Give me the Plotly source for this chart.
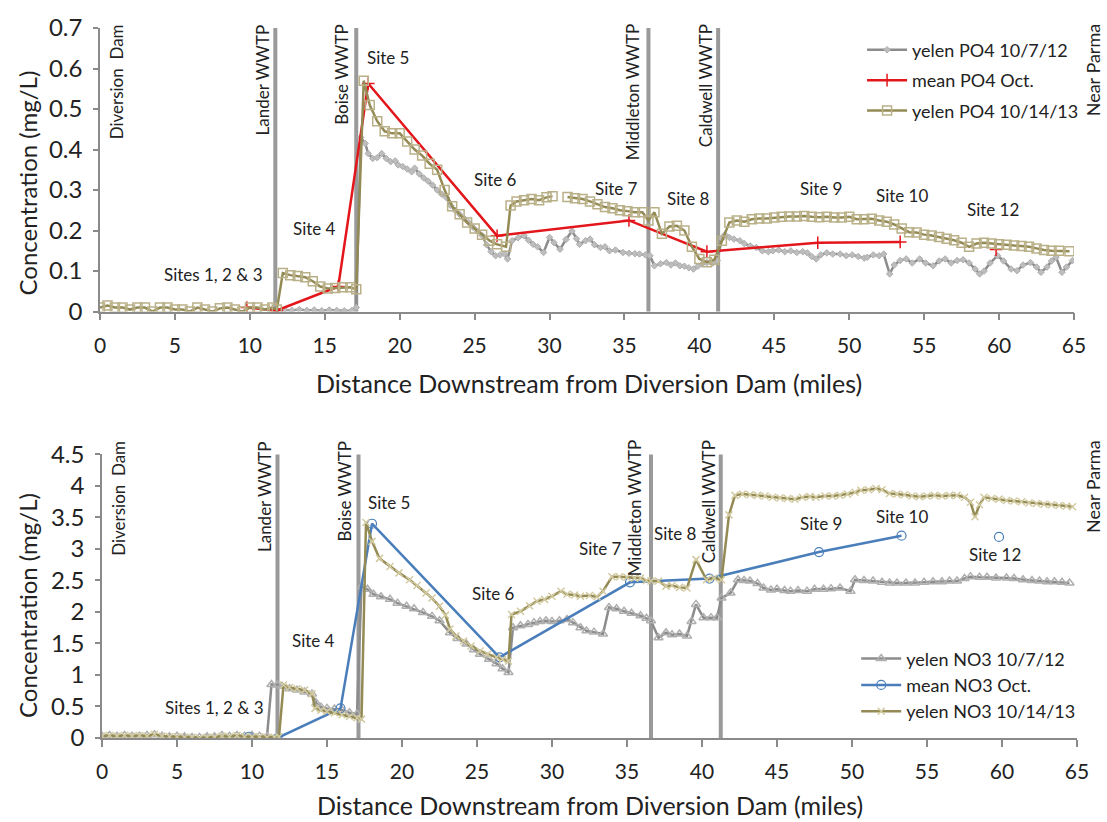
import plotly.graph_objects as go

# ---------------- DATA ----------------
# PO4 (top panel)
po4_2012_x = [11.8,12.3,12.8,13.3,13.8,14.3,14.8,15.3,15.8,16.3,16.8,17.1,17.4,17.7,17.9,18.2,18.5,18.8,19.1,19.4,19.7,19.9,20.2,20.5,20.8,21.0,21.3,21.6,21.9,22.2,22.5,22.8,23.1,23.4,23.7,24.0,24.3,24.6,24.9,25.2,25.5,25.8,26.1,26.4,26.7,27.0,27.2,27.5,27.9,28.3,28.6,28.9,29.2,29.6,30.0,30.3,30.7,31.1,31.5,31.8,32.0,32.4,32.7,33.0,33.4,33.7,34.0,34.4,34.9,35.3,35.7,36.0,36.4,36.7,37.0,37.4,37.8,38.1,38.4,38.7,39.0,39.3,39.6,39.9,40.2,40.5,40.9,41.2,41.5,41.7,42.0,42.3,42.7,43.0,43.4,43.8,44.2,44.6,44.9,45.3,45.7,46.1,46.5,46.9,47.2,47.5,47.8,48.1,48.5,48.9,49.4,49.8,50.2,50.6,51.0,51.2,51.6,52.0,52.3,52.7,53.0,53.4,53.8,54.2,54.7,55.1,55.6,56.0,56.4,56.8,57.2,57.6,58.0,58.4,58.7,59.0,59.4,59.9,60.3,60.8,61.2,61.6,62.1,62.5,62.8,63.2,63.5,63.8,64.2,64.5,64.9]
po4_2012_y = [0.003,0.004,0.003,0.005,0.003,0.004,0.002,0.004,0.003,0.002,0.003,0.01,0.43,0.415,0.39,0.378,0.38,0.39,0.378,0.37,0.372,0.362,0.358,0.352,0.345,0.354,0.34,0.33,0.322,0.312,0.30,0.29,0.282,0.262,0.25,0.24,0.23,0.22,0.208,0.198,0.188,0.165,0.148,0.138,0.14,0.142,0.13,0.175,0.182,0.187,0.176,0.166,0.16,0.146,0.183,0.17,0.154,0.178,0.199,0.18,0.166,0.175,0.179,0.165,0.158,0.16,0.15,0.152,0.146,0.144,0.143,0.142,0.14,0.138,0.113,0.118,0.121,0.115,0.12,0.113,0.112,0.108,0.105,0.112,0.118,0.121,0.12,0.126,0.18,0.19,0.183,0.179,0.175,0.168,0.162,0.158,0.15,0.148,0.15,0.152,0.148,0.15,0.146,0.148,0.145,0.136,0.13,0.14,0.145,0.142,0.142,0.138,0.14,0.136,0.132,0.134,0.14,0.138,0.142,0.093,0.115,0.126,0.13,0.12,0.13,0.12,0.113,0.125,0.13,0.12,0.126,0.128,0.12,0.105,0.093,0.1,0.12,0.138,0.125,0.105,0.101,0.115,0.121,0.11,0.097,0.11,0.125,0.134,0.097,0.11,0.126]

po4_mean_x = [9.8,11.8,15.9,17.9,26.5,35.3,40.5,47.9,53.4,None,59.8]
po4_mean_y = [0.01,0.003,0.062,0.563,0.187,0.225,0.148,0.170,0.172,None,0.153]

po4_2013_x = [0,0.5,1,1.5,2,2.5,3,3.5,4,4.5,5,5.5,6,6.5,7,7.5,8,8.5,9,9.5,10,10.5,11,11.5,11.8,12.2,12.7,13.2,13.7,14.2,14.7,15.2,15.7,16.2,16.7,17.1,17.6,18.0,18.5,19.0,19.5,20.0,20.5,21.0,21.5,22.0,22.5,23.0,23.5,24.0,24.5,25.0,25.5,26.0,26.5,27.1,27.4,27.8,28.3,28.8,29.3,29.8,30.2,None,31.2,31.7,32.2,32.7,33.2,33.7,34.2,34.7,35.2,35.7,36.2,36.6,37.0,37.5,38.0,38.5,39.0,39.5,40.0,40.5,41.0,41.5,42.0,42.5,43.0,43.5,44.0,44.5,45.0,45.5,46.0,46.5,47.0,47.5,48.0,48.5,49.0,49.5,50.0,50.5,51.0,51.5,52.0,52.5,53.0,53.5,54.0,54.5,55.0,55.5,56.0,56.5,57.0,57.5,58.0,58.5,59.0,59.5,60.0,60.5,61.0,61.5,62.0,62.5,63.0,63.5,64.0,64.7]
po4_2013_y = [0.01,0.015,0.01,0.01,0.005,0.01,0.01,0.0,0.01,0.01,0.005,0.005,0.0,0.01,0.005,0.0,0.008,0.01,0.005,0.0,0.01,0.01,0.005,0.01,0.005,0.095,0.09,0.088,0.085,0.075,0.062,0.057,0.058,0.06,0.06,0.055,0.57,0.51,0.47,0.445,0.44,0.44,0.42,0.40,0.385,0.365,0.35,0.30,0.26,0.24,0.22,0.205,0.19,0.175,0.166,0.16,0.262,0.272,0.275,0.278,0.275,0.282,0.285,None,0.283,0.28,0.278,0.272,0.265,0.258,0.255,0.25,0.248,0.245,0.245,0.225,0.245,0.192,0.21,0.212,0.2,0.16,0.13,0.122,0.128,0.175,0.22,0.225,0.222,0.228,0.23,0.23,0.232,0.234,0.235,0.235,0.236,0.234,0.233,0.234,0.232,0.232,0.234,0.228,0.228,0.229,0.225,0.222,0.215,0.205,0.196,0.195,0.19,0.188,0.184,0.18,0.176,0.17,0.16,0.168,0.17,0.168,0.166,0.165,0.163,0.162,0.16,0.156,0.152,0.15,0.15,0.149]

# NO3 (bottom panel)
no3_2012_x = [0,0.5,1,1.5,2,2.5,3,3.5,4,4.5,5,5.5,6,6.5,7,7.5,8,8.5,9,9.5,10,10.5,11.0,11.3,11.7,12.0,12.5,13.0,13.5,14.0,14.3,14.6,15.0,15.5,16.0,16.5,17.0,17.3,17.7,18.1,18.6,19.2,19.7,20.3,20.8,21.4,22.0,22.5,23.2,23.7,24.3,24.8,25.2,25.8,26.3,26.7,27.1,27.4,27.9,28.4,28.8,29.2,29.6,30.0,30.5,31.0,31.4,31.9,32.3,32.8,33.4,33.8,34.3,34.8,35.3,35.9,36.3,36.6,37.1,37.6,38.0,38.5,39.0,39.3,39.6,40.1,40.6,41.0,41.3,41.9,42.4,42.8,43.2,43.7,44.1,44.6,45.0,45.5,45.9,46.4,47.0,47.5,48.1,48.6,49.2,49.9,50.2,50.8,51.4,52.0,52.5,53.0,53.6,54.2,54.8,55.4,56.0,56.5,57.0,57.5,57.9,58.5,59.0,59.6,60.3,60.8,61.4,62.0,62.5,63.0,63.5,64.0,64.5]
no3_2012_y = [0.03,0.04,0.03,0.04,0.03,0.03,0.04,0.05,0.03,0.02,0.03,0.02,0.01,0.01,0.02,0.02,0.04,0.03,0.04,0.03,0.04,0.03,0.02,0.85,0.84,0.82,0.78,0.76,0.73,0.70,0.55,0.49,0.47,0.46,0.44,0.40,0.38,2.40,2.36,2.28,2.24,2.20,2.14,2.09,2.05,1.99,1.93,1.86,1.67,1.58,1.49,1.40,1.33,1.25,1.18,1.10,1.04,1.75,1.78,1.80,1.83,1.85,1.86,1.85,1.86,1.88,1.83,1.75,1.70,1.68,1.65,2.07,2.05,2.01,1.98,1.94,1.90,1.86,1.59,1.67,1.64,1.65,1.62,1.85,2.12,1.91,1.91,1.91,2.22,2.30,2.51,2.50,2.49,2.45,2.38,2.35,2.36,2.34,2.33,2.34,2.33,2.36,2.36,2.37,2.38,2.33,2.51,2.50,2.49,2.47,2.46,2.46,2.46,2.46,2.47,2.48,2.48,2.49,2.49,2.53,2.56,2.55,2.55,2.54,2.54,2.53,2.51,2.50,2.49,2.48,2.48,2.47,2.46]

no3_mean_x = [9.8,11.7,15.9,18.0,26.5,35.2,40.5,47.8,53.3,None,59.8]
no3_mean_y = [0.02,0.0,0.47,3.40,1.28,2.47,2.53,2.95,3.21,None,3.19]

no3_2013_x = [0,0.5,1,1.5,2,2.5,3,3.5,4,4.5,5,5.5,6,6.5,7,7.5,8,8.5,9,9.5,10,10.5,11.0,11.5,11.8,12.1,12.5,13.0,13.5,14.0,14.2,14.6,15.0,15.5,16.0,16.5,17.0,17.3,17.6,18.0,18.5,19.2,19.8,20.5,21.0,21.6,22.0,22.5,22.9,23.2,23.6,24.1,24.6,25.2,25.7,26.3,26.7,27.1,27.3,27.9,28.5,29.0,29.5,30.0,30.6,31.0,31.5,31.9,32.5,33.0,33.4,34.0,34.5,35.0,35.5,35.9,36.3,36.6,37.1,37.6,38.0,38.5,39.0,39.6,40.3,40.8,41.3,41.8,42.2,42.7,43.2,43.7,44.2,44.7,45.2,45.7,46.2,46.7,47.2,47.6,48.2,48.7,49.2,49.7,50.2,50.6,51.1,51.6,52.0,52.5,53.0,53.5,54.0,54.5,55.0,55.5,56.0,56.5,57.0,57.5,57.9,58.2,58.5,58.8,59.3,59.8,60.3,60.8,61.3,61.8,62.3,62.8,63.3,63.8,64.3,64.7]
no3_2013_y = [0.03,0.04,0.03,0.04,0.03,0.04,0.03,0.06,0.03,0.02,0.02,0.01,0.01,0.0,0.01,0.01,0.03,0.02,0.04,0.02,0.02,0.02,0.01,0.01,0.02,0.84,0.80,0.78,0.76,0.70,0.47,0.44,0.42,0.40,0.37,0.34,0.32,0.30,3.42,3.12,2.85,2.72,2.62,2.51,2.42,2.30,2.22,2.09,1.95,1.73,1.62,1.54,1.46,1.38,1.33,1.28,1.25,1.22,1.96,2.01,2.10,2.17,2.20,2.25,2.33,2.28,2.27,2.25,2.26,2.24,2.33,2.56,2.56,2.55,2.54,2.54,2.50,2.49,2.49,2.41,2.42,2.39,2.38,2.83,2.51,2.54,2.51,3.54,3.85,3.87,3.86,3.85,3.84,3.82,3.81,3.80,3.79,3.82,3.83,3.82,3.84,3.84,3.85,3.87,3.90,3.93,3.94,3.96,3.94,3.88,3.87,3.86,3.84,3.83,3.84,3.85,3.84,3.85,3.85,3.82,3.74,3.51,3.70,3.82,3.80,3.79,3.77,3.76,3.75,3.73,3.72,3.71,3.70,3.69,3.68,3.67]

# Landmarks
wwtp_miles = [11.7, 17.1, 36.6, 41.25]
landmark_names = ["Diversion  Dam", "Lander WWTP", "Boise WWTP", "Middleton WWTP", "Caldwell WWTP"]
landmark_label_miles = [1.1, 10.85, 16.15, 35.5, 40.4]

site_names = ["Sites 1, 2 & 3", "Site 4", "Site 5", "Site 6", "Site 7", "Site 8", "Site 9", "Site 10", "Site 12"]
site_x_top = [7.6, 14.3, 19.2, 26.4, 34.5, 39.3, 48.1, 53.5, 59.6]
site_y_top = [0.091, 0.206, 0.627, 0.326, 0.303, 0.279, 0.303, 0.286, 0.252]
site_x_bot = [7.5, 14.1, 19.1, 26.1, 33.2, 38.2, 47.9, 53.3, 59.5]
site_y_bot = [0.49, 1.54, 3.73, 2.30, 3.00, 3.24, 3.41, 3.52, 2.91]

# ---------------- STYLE ----------------
FONT = "Lato"
GREY = "#8C8C8C"
GREY_M = "#AFAFAF"
OLIVE = "#948A54"
OLIVE_M = "#B9B088"
OLIVE_X = "#D2CAA0"
RED = "#E3161C"
BLUE = "#4A7EBB"

fig = go.Figure()

fig.add_trace(go.Scatter(x=po4_2012_x, y=po4_2012_y, mode="lines+markers", name="yelen PO4 10/7/12",
                         line=dict(color=GREY, width=2.5), marker=dict(symbol="diamond", size=5, color="#BDBDBD", line=dict(color=GREY_M, width=1)),
                         xaxis="x", yaxis="y", legend="legend", legendgroup="a"))
fig.add_trace(go.Scatter(x=po4_mean_x, y=po4_mean_y, mode="lines+markers", name="mean PO4 Oct.",
                         line=dict(color=RED, width=2.5), marker=dict(symbol="cross-thin-open", size=9, color=RED, line=dict(color=RED, width=1.5)),
                         xaxis="x", yaxis="y", legend="legend", legendgroup="b"))
fig.add_trace(go.Scatter(x=po4_2013_x, y=po4_2013_y, mode="lines+markers", name="yelen PO4 10/14/13",
                         line=dict(color=OLIVE, width=2.5), marker=dict(symbol="square-open", size=9, color=OLIVE_M, line=dict(color=OLIVE_M, width=1.5)),
                         xaxis="x", yaxis="y", legend="legend", legendgroup="c"))

fig.add_trace(go.Scatter(x=no3_2012_x, y=no3_2012_y, mode="lines+markers", name="yelen NO3 10/7/12",
                         line=dict(color=GREY, width=2.5), marker=dict(symbol="triangle-up-open", size=8, color=GREY_M, line=dict(color=GREY_M, width=1.5)),
                         xaxis="x2", yaxis="y2", legend="legend2", legendgroup="d"))
fig.add_trace(go.Scatter(x=no3_mean_x, y=no3_mean_y, mode="lines+markers", name="mean NO3 Oct.",
                         line=dict(color=BLUE, width=2.5), marker=dict(symbol="circle-open", size=9, color=BLUE, line=dict(color=BLUE, width=1.2)),
                         xaxis="x2", yaxis="y2", legend="legend2", legendgroup="e"))
fig.add_trace(go.Scatter(x=no3_2013_x, y=no3_2013_y, mode="lines+markers", name="yelen NO3 10/14/13",
                         line=dict(color=OLIVE, width=2.5), marker=dict(symbol="x-thin-open", size=7, color=OLIVE_X, line=dict(color=OLIVE_X, width=1.5)),
                         xaxis="x2", yaxis="y2", legend="legend2", legendgroup="f"))

shapes = []
for m in wwtp_miles:
    shapes.append(dict(type="line", xref="x", yref="y domain", x0=m, x1=m, y0=0, y1=1,
                       line=dict(color="#9A9A9A", width=4), layer="below"))
    shapes.append(dict(type="line", xref="x2", yref="y2 domain", x0=m, x1=m, y0=0, y1=1,
                       line=dict(color="#9A9A9A", width=4), layer="below"))

ann = []
lab_font = dict(family=FONT, size=17, color="#222")
parma_font = dict(family=FONT, size=18, color="#222")
for nm, xm in zip(landmark_names, landmark_label_miles):
    ann.append(dict(text=nm, x=xm, y=1.02, xref="x", yref="y domain", textangle=-90,
                    xanchor="center", yanchor="top", showarrow=False, font=lab_font))
    ann.append(dict(text=nm, x=xm, y=1.055, xref="x2", yref="y2 domain", textangle=-90,
                    xanchor="center", yanchor="top", showarrow=False, font=lab_font))
ann.append(dict(text="Near Parma", x=1.0195, y=1.02, xref="x domain", yref="y domain", textangle=-90,
                xanchor="center", yanchor="top", showarrow=False, font=parma_font))
ann.append(dict(text="Near Parma", x=1.0165, y=1.055, xref="x2 domain", yref="y2 domain", textangle=-90,
                xanchor="center", yanchor="top", showarrow=False, font=parma_font))

site_font = dict(family=FONT, size=17, color="#222")
for nm, xs, ys in zip(site_names, site_x_top, site_y_top):
    ann.append(dict(text=nm, x=xs, y=ys, xref="x", yref="y", showarrow=False, font=site_font))
for nm, xs, ys in zip(site_names, site_x_bot, site_y_bot):
    ann.append(dict(text=nm, x=xs, y=ys, xref="x2", yref="y2", showarrow=False, font=site_font))

xtitle_font = dict(family=FONT, size=25, color="#222")
ytitle_font = dict(family=FONT, size=24, color="#222")
xtitle = "Distance Downstream from Diversion Dam (miles)"
ytitle = "Concentration (mg/L)"
ann.append(dict(text=xtitle, x=0.5, y=0.5, xref="paper", yref="paper", showarrow=False, font=xtitle_font, xanchor="center", yanchor="middle"))
ann.append(dict(text=xtitle, x=0.502, y=-0.094, xref="paper", yref="paper", showarrow=False, font=xtitle_font, xanchor="center", yanchor="middle"))
ann.append(dict(text=ytitle, x=-0.074, y=0.782, xref="paper", yref="paper", showarrow=False, font=ytitle_font, textangle=-90, xanchor="center", yanchor="middle"))
ann.append(dict(text=ytitle, x=-0.074, y=0.187, xref="paper", yref="paper", showarrow=False, font=ytitle_font, textangle=-90, xanchor="center", yanchor="middle"))

xaxis_common = dict(showgrid=False, zeroline=False, showline=True, linecolor="#8A8A8A", linewidth=1.5,
                    ticks="outside", tickcolor="#8A8A8A", tickwidth=1.5, ticklabelstandoff=7,
                    tickfont=dict(family=FONT, size=21, color="#222"))
yaxis_common = dict(showgrid=False, zeroline=False, showline=True, linecolor="#8A8A8A", linewidth=1.5,
                    ticks="outside", tickcolor="#8A8A8A", tickwidth=1.5, ticklabelstandoff=6,
                    tickfont=dict(family=FONT, size=24, color="#222"))

W = 977.0
fig.update_layout(
    width=1107, height=822,
    margin=dict(l=100, r=30, t=22, b=84),
    paper_bgcolor="white", plot_bgcolor="white",
    font=dict(family=FONT, color="#222"),
    xaxis=dict(domain=[0, 974 / W], range=[0, 65], dtick=5, tick0=0, ticklen=7, anchor="y", **xaxis_common),
    yaxis=dict(domain=[430 / 716, 1], range=[0, 0.7], dtick=0.1, tick0=0, ticklen=5, anchor="x", **yaxis_common),
    xaxis2=dict(domain=[2 / W, 1], range=[0, 65], dtick=5, tick0=0, ticklen=7, anchor="y2", **xaxis_common),
    yaxis2=dict(domain=[0, 286 / 716], range=[0, 4.5], dtick=0.5, tick0=0, ticklen=5, anchor="x2", **yaxis_common),
    legend=dict(x=0.780, y=0.995, xanchor="left", yanchor="top", bgcolor="rgba(0,0,0,0)",
                font=dict(family=FONT, size=18, color="#222"), itemwidth=40, tracegroupgap=4),
    legend2=dict(x=0.774, y=0.1376, xanchor="left", yanchor="top", bgcolor="rgba(0,0,0,0)",
                 font=dict(family=FONT, size=18, color="#222"), itemwidth=40, tracegroupgap=0),
    shapes=shapes,
    annotations=ann,
    showlegend=True,
)

fig.write_html("out.html")
